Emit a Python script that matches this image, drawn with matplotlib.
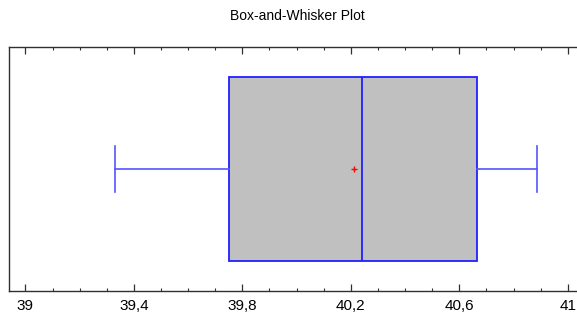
import matplotlib
matplotlib.use("Agg")
import matplotlib.pyplot as plt
from matplotlib.ticker import FixedLocator, MultipleLocator, FuncFormatter

# Data
whisker_low = 39.329
q1 = 39.751
median = 40.241
mean = 40.213
q3 = 40.664
whisker_high = 40.886
tick_values = [39.0, 39.4, 39.8, 40.2, 40.6, 41.0]
title = "Box-and-Whisker Plot"

plt.rcParams['font.family'] = ['Liberation Sans', 'DejaVu Sans']

fig = plt.figure(figsize=(5.77, 3.24), dpi=100)
W, H = 577, 324
left_px, right_px, top_px, bottom_px = 9, 582, 47, 291
ax = fig.add_axes([left_px / W, 1 - bottom_px / H,
                   (right_px - left_px) / W, (bottom_px - top_px) / H])

stats = [dict(whislo=whisker_low, q1=q1, med=median, mean=mean, q3=q3,
              whishi=whisker_high, fliers=[])]
ax.bxp(stats, positions=[0.5], widths=0.754, capwidths=0.19,
       orientation='horizontal', patch_artist=True, showmeans=True,
       boxprops=dict(facecolor='#C0C0C0', edgecolor='#2020FF', linewidth=1.3),
       medianprops=dict(color='#2020FF', linewidth=1.3),
       whiskerprops=dict(color='#5555FF', linewidth=1.2),
       capprops=dict(color='#5555FF', linewidth=1.2),
       meanprops=dict(marker='+', markeredgecolor='red', markersize=5,
                      markeredgewidth=1.0))

x0 = tick_values[0]
scale = 271.2
ax.set_xlim(x0 - (25.4 - left_px) / scale, x0 + (right_px - 25.4) / scale)
ax.set_ylim(0, 1)
ax.set_yticks([])
ax.xaxis.set_major_locator(FixedLocator(tick_values))
ax.xaxis.set_minor_locator(MultipleLocator(0.1))
ax.xaxis.set_major_formatter(FuncFormatter(
    lambda v, p: (f"{v:.1f}".rstrip('0').rstrip('.')).replace('.', ',')))
ax.tick_params(axis='x', which='major', direction='in', length=5, width=0.9,
               top=True, bottom=True, color='#303030', labelsize=11, pad=6)
ax.tick_params(axis='x', which='minor', direction='in', length=2.5, width=0.8,
               top=True, bottom=True, color='#303030')
for s in ax.spines.values():
    s.set_color('#303030')
    s.set_linewidth(1.0)

fig.text(297 / W, 1 - 16 / H, title, ha='center', va='center', fontsize=10)

fig.savefig("out.png", dpi=100)
